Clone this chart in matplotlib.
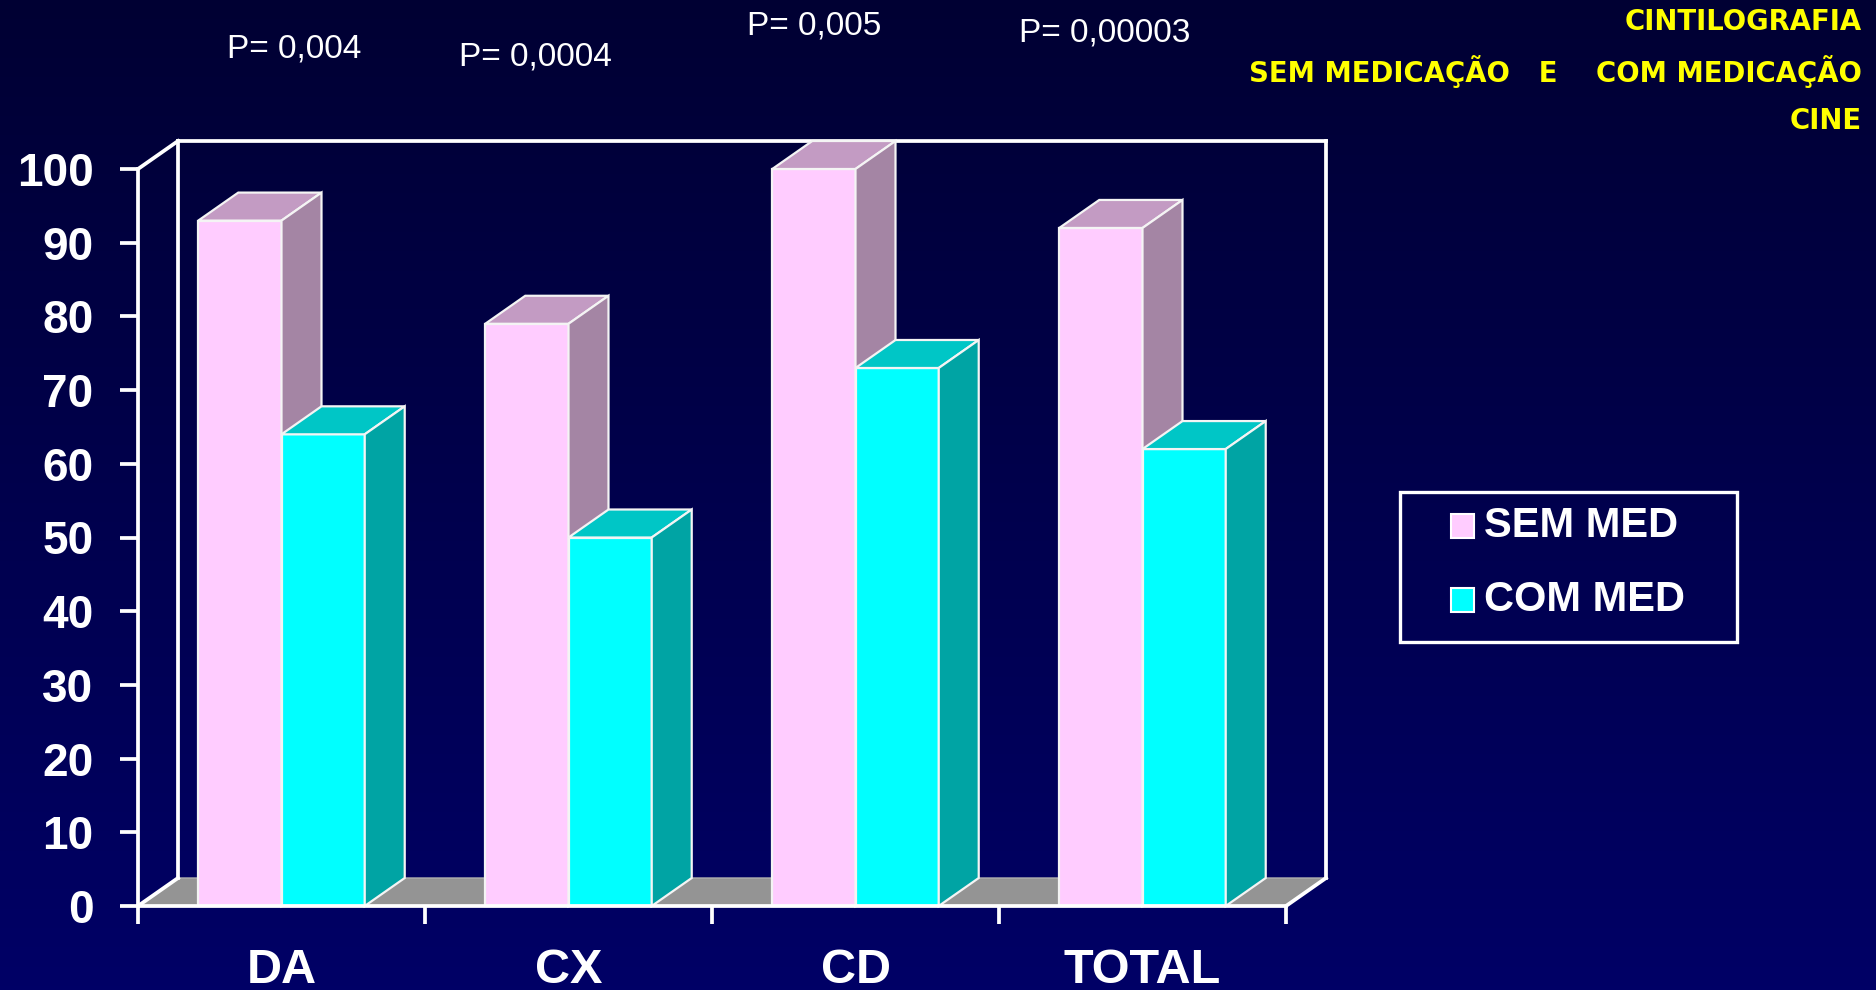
import numpy as np
import matplotlib
matplotlib.use('Agg')
import matplotlib.pyplot as plt
from matplotlib.patches import Polygon, Rectangle

categories = ['DA', 'CX', 'CD', 'TOTAL']
sem_med = [93, 79, 100, 92]
com_med = [64, 50, 73, 62]
p_values = ['P= 0,004', 'P= 0,0004', 'P= 0,005', 'P= 0,00003']
series_names = ['SEM MED', 'COM MED']
yticks = list(range(0, 101, 10))
title_lines = ['CINTILOGRAFIA', 'SEM MEDICAÇÃO   E    COM MEDICAÇÃO', 'CINE']

W, H = 1876, 990
fig = plt.figure(figsize=(W / 100, H / 100), dpi=100)

# background gradient
bg = fig.add_axes([0, 0, 1, 1], zorder=-10)
g = np.linspace(0, 1, 256)[:, None, None]
top_c = np.array([0, 0, 0x33]) / 255
bot_c = np.array([0, 0, 0x66]) / 255
img = top_c + (bot_c - top_c) * g
bg.imshow(img, aspect='auto', extent=[0, 1, 0, 1])
bg.axis('off')

def fx(px):
    return px / W

def fy(py):
    return 1 - py / H

# main axes
L, R, T, B = 138, 1286, 169, 906
ax = fig.add_axes([L / W, 1 - B / H, (R - L) / W, (B - T) / H])
ax.set_xlim(0, len(categories))
ax.set_ylim(0, 100)
ax.patch.set_alpha(0)
DX = 40 / ((R - L) / len(categories))
DY = 28 / ((B - T) / 100)
n = len(categories)

WHITE = 'white'
LW = 2.7
# floor
ax.add_patch(Polygon([(0, 0), (n, 0), (n + DX, DY), (DX, DY)], closed=True,
                     facecolor='#949494', edgecolor='#b0b0b0', lw=1.0, zorder=1, clip_on=False))
# walls
wall_lines = [
    ([0, DX], [0, DY]),
    ([n, n + DX], [0, DY]),
    ([0, DX], [100, 100 + DY]),
    ([DX, DX], [DY, 100 + DY]),
    ([DX, n + DX], [100 + DY, 100 + DY]),
    ([n + DX, n + DX], [DY, 100 + DY]),
]
for xs, ys in wall_lines:
    ax.plot(xs, ys, color=WHITE, lw=LW, zorder=2, clip_on=False, solid_capstyle='projecting')

# bars
bw = 0.29
off = 0.21
face_cols = [('#FFCCFF', '#C39BC3', '#A485A4'), ('#00FFFF', '#00C6C6', '#00A4A4')]
z = 3
for i in range(n):
    for s, vals in enumerate([sem_med, com_med]):
        h = vals[i]
        x0 = i + off + s * bw
        x1 = x0 + bw
        front, topc, side = face_cols[s]
        ec = '#f4f4f4'
        ax.add_patch(Rectangle((x0, 0), bw, h, facecolor=front, edgecolor=ec, lw=1.6,
                               zorder=z, clip_on=False))
        ax.add_patch(Polygon([(x0, h), (x1, h), (x1 + DX, h + DY), (x0 + DX, h + DY)],
                             closed=True, facecolor=topc, edgecolor=ec, lw=1.6, zorder=z, clip_on=False))
        ax.add_patch(Polygon([(x1, 0), (x1 + DX, DY), (x1 + DX, h + DY), (x1, h)],
                             closed=True, facecolor=side, edgecolor=ec, lw=1.6, zorder=z, clip_on=False))
        z += 1

# axes styling
for sp in ['top', 'right']:
    ax.spines[sp].set_visible(False)
for sp in ['left', 'bottom']:
    ax.spines[sp].set_color(WHITE)
    ax.spines[sp].set_linewidth(LW)
    ax.spines[sp].set_zorder(50)
ax.set_yticks(yticks)
ax.set_yticklabels([str(v) for v in yticks], fontsize=33, fontweight='bold',
                   family='Liberation Sans', color=WHITE)
ax.tick_params(axis='y', direction='out', length=13, width=LW, color=WHITE, pad=19)
ax.set_xticks(range(n + 1))
ax.set_xticklabels([''] * (n + 1))
ax.tick_params(axis='x', which='major', direction='out', length=13, width=LW, color=WHITE)
ax.set_xticks([i + 0.5 for i in range(n)], minor=True)
ax.set_xticklabels(categories, minor=True, fontsize=35, fontweight='bold',
                   family='Liberation Sans', color=WHITE)
ax.tick_params(axis='x', which='minor', length=0, pad=30)

# p-values
p_pos = [(227, 49), (459, 57), (747, 26), (1019, 33)]
for txt, (px, py) in zip(p_values, p_pos):
    fig.text(fx(px), fy(py), txt, ha='left', va='center', fontsize=24,
             family='Liberation Sans', color=WHITE)

# title
t_y = [22, 72, 121]
for txt, py in zip(title_lines, t_y):
    fig.text(fx(1862), fy(py), txt, ha='right', va='center', fontsize=19.8,
             fontweight='bold', family='DejaVu Sans', color='#FFFF00')

# legend (manual)
fig.patches.append(Rectangle((fx(1400), fy(642)), fx(1737) - fx(1400), fy(492) - fy(642),
                             transform=fig.transFigure, facecolor='none', edgecolor=WHITE, lw=2.4))
leg_cols = ['#FFCCFF', '#00FFFF']
leg_y = [526, 600]
for name, col, py in zip(series_names, leg_cols, leg_y):
    fig.patches.append(Rectangle((fx(1451), fy(py + 12)), fx(1474) - fx(1451), fy(py - 12) - fy(py + 12),
                                 transform=fig.transFigure, facecolor=col, edgecolor=WHITE, lw=1.5))
    fig.text(fx(1484), fy(py), name, ha='left', va='center', fontsize=30, fontweight='bold',
             family='Liberation Sans', color=WHITE)

fig.savefig('out.png', dpi=100)
